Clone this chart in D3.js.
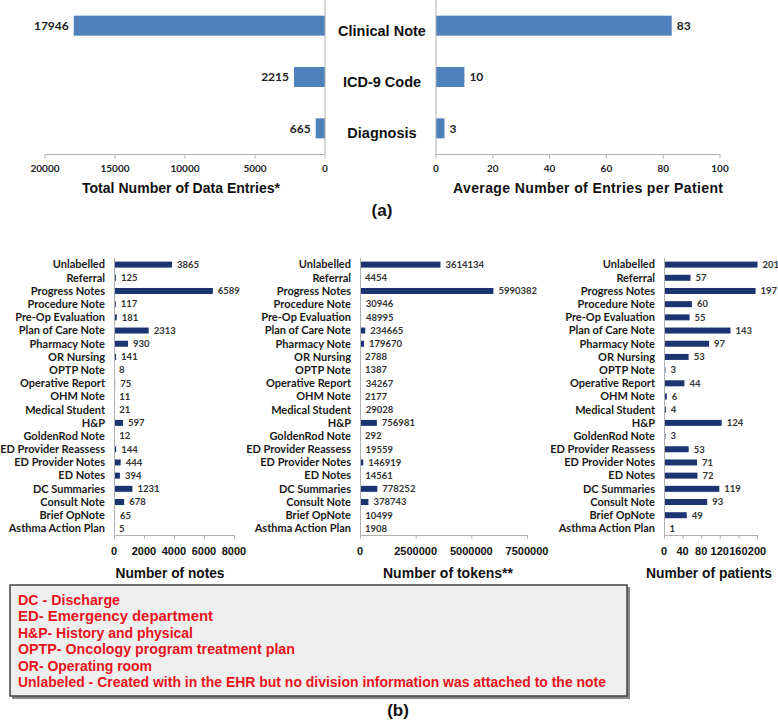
<!DOCTYPE html>
<html>
<head>
<meta charset="utf-8">
<script src="https://cdn.jsdelivr.net/npm/d3@7"></script>
<style>
  html, body { margin: 0; padding: 0; background: #fff; }
  svg { display: block; }
</style>
</head>
<body>
<svg id="chart" width="778" height="721"></svg>
<script>
// ---------- data ----------
const topCats = ["Clinical Note", "ICD-9 Code", "Diagnosis"];
const topTotals = [17946, 2215, 665];
const topAverages = [83, 10, 3];
const totalTicks = [20000, 15000, 10000, 5000, 0];
const avgTicks = [0, 20, 40, 60, 80, 100];

const noteCats = ["Unlabelled", "Referral", "Progress Notes", "Procedure Note", "Pre-Op Evaluation",
  "Plan of Care Note", "Pharmacy Note", "OR Nursing", "OPTP Note", "Operative Report", "OHM Note",
  "Medical Student", "H&P", "GoldenRod Note", "ED Provider Reassess", "ED Provider Notes", "ED Notes",
  "DC Summaries", "Consult Note", "Brief OpNote", "Asthma Action Plan"];
const noteCounts = [3865, 125, 6589, 117, 181, 2313, 930, 141, 8, 75, 11, 21, 597, 12, 144, 444, 394, 1231, 678, 65, 5];
const tokenCounts = [3614134, 4454, 5990382, 30946, 48995, 234665, 179670, 2788, 1387, 34267, 2177, 29028,
  756981, 292, 19559, 146919, 14561, 778252, 378743, 10499, 1908];
const patientCounts = [201, 57, 197, 60, 55, 143, 97, 53, 3, 44, 6, 4, 124, 3, 53, 71, 72, 119, 93, 49, 1];
const noteTicks = [0, 2000, 4000, 6000, 8000];
const tokenTicks = [0, 2500000, 5000000, 7500000];
const patientTicks = [0, 40, 80, 120, 160, 200];

const legendLines = [
  "DC - Discharge",
  "ED- Emergency department",
  "H&P- History and physical",
  "OPTP- Oncology program treatment plan",
  "OR- Operating room",
  "Unlabeled - Created with in the EHR but no division information was attached to the note"
];
const legendWidths = [102, 195, 175, 277, 134, 588];

// ---------- styles ----------
const AX = "#b0b0b0";
const LIGHT = "#4f81bd";
const NAVY = "#1a3570";
const CAL = "Lato, 'Open Sans', sans-serif";
const ARIAL = "'Liberation Sans', Arial, sans-serif";

const svg = d3.select("#chart");

// ---------- panel (a) ----------
const yA = d3.scaleBand().domain(topCats).range([0, 154]);
const barHA = 20;

function axisLines(g, x0, x1, yb, ticks, xs) {
  g.append("line").attr("x1", x0).attr("x2", x1).attr("y1", yb).attr("y2", yb)
    .attr("stroke", AX).attr("stroke-width", 1);
  g.selectAll(null).data(ticks).join("line")
    .attr("x1", d => xs(d)).attr("x2", d => xs(d))
    .attr("y1", yb).attr("y2", yb + 4).attr("stroke", AX);
}

// left: totals (reversed)
const xTot = d3.scaleLinear().domain([0, 20000]).range([325, 45]);
const gL = svg.append("g");
gL.selectAll("rect").data(topCats).join("rect")
  .attr("x", (d, i) => xTot(topTotals[i]))
  .attr("width", (d, i) => xTot(0) - xTot(topTotals[i]))
  .attr("y", d => yA(d) + yA.bandwidth() / 2 - barHA / 2)
  .attr("height", barHA)
  .attr("fill", LIGHT);
gL.append("line").attr("x1", xTot(0)).attr("x2", xTot(0)).attr("y1", 0).attr("y2", 154).attr("stroke", AX);
axisLines(gL, xTot(20000), xTot(0), 154.5, totalTicks, xTot);
gL.selectAll("text.v").data(topCats).join("text")
  .attr("x", (d, i) => xTot(topTotals[i]) - 5)
  .attr("y", d => yA(d) + yA.bandwidth() / 2)
  .attr("dy", "0.35em").attr("text-anchor", "end")
  .attr("font-family", CAL).attr("font-weight", 700).attr("font-size", 12).attr("fill", "#222")
  .text((d, i) => topTotals[i]);
gL.selectAll("text.t").data(totalTicks).join("text")
  .attr("x", d => xTot(d)).attr("y", 168).attr("dy", "0.35em").attr("text-anchor", "middle")
  .attr("font-family", CAL).attr("font-weight", 700).attr("font-size", 10).attr("fill", "#222")
  .text(d => d);
gL.append("text").attr("x", 181).attr("y", 188).attr("dy", "0.35em").attr("text-anchor", "middle")
  .attr("font-family", ARIAL).attr("font-weight", 700).attr("font-size", 14).attr("fill", "#111")
  .attr("textLength", 198).attr("lengthAdjust", "spacingAndGlyphs")
  .text("Total Number of Data Entries*");

// right: averages
const xAvg = d3.scaleLinear().domain([0, 100]).range([436, 720]);
const gR = svg.append("g");
gR.selectAll("rect").data(topCats).join("rect")
  .attr("x", xAvg(0))
  .attr("width", (d, i) => xAvg(topAverages[i]) - xAvg(0))
  .attr("y", d => yA(d) + yA.bandwidth() / 2 - barHA / 2)
  .attr("height", barHA)
  .attr("fill", LIGHT);
gR.append("line").attr("x1", xAvg(0)).attr("x2", xAvg(0)).attr("y1", 0).attr("y2", 154).attr("stroke", AX);
axisLines(gR, xAvg(0), xAvg(100), 154.5, avgTicks, xAvg);
gR.selectAll("text.v").data(topCats).join("text")
  .attr("x", (d, i) => xAvg(topAverages[i]) + 5)
  .attr("y", d => yA(d) + yA.bandwidth() / 2)
  .attr("dy", "0.35em").attr("text-anchor", "start")
  .attr("font-family", CAL).attr("font-weight", 700).attr("font-size", 12).attr("fill", "#222")
  .text((d, i) => topAverages[i]);
gR.selectAll("text.t").data(avgTicks).join("text")
  .attr("x", d => xAvg(d)).attr("y", 168).attr("dy", "0.35em").attr("text-anchor", "middle")
  .attr("font-family", CAL).attr("font-weight", 700).attr("font-size", 10).attr("fill", "#222")
  .text(d => d);
gR.append("text").attr("x", 588).attr("y", 188).attr("dy", "0.35em").attr("text-anchor", "middle")
  .attr("font-family", ARIAL).attr("font-weight", 700).attr("font-size", 14).attr("fill", "#111")
  .attr("textLength", 270).attr("lengthAdjust", "spacing")
  .text("Average Number of Entries per Patient");

// middle category labels
svg.selectAll("text.cat").data(topCats).join("text")
  .attr("x", 382).attr("y", d => yA(d) + yA.bandwidth() / 2 + 5)
  .attr("dy", "0.35em").attr("text-anchor", "middle")
  .attr("font-family", ARIAL).attr("font-weight", 700).attr("font-size", 14.5).attr("fill", "#111")
  .text(d => d);

svg.append("text").attr("x", 382).attr("y", 210).attr("dy", "0.35em").attr("text-anchor", "middle")
  .attr("font-family", ARIAL).attr("font-weight", 700).attr("font-size", 17).attr("fill", "#111")
  .text("(a)");

// ---------- panel (b) ----------
const yB = d3.scaleBand().domain(noteCats).range([258, 535]);
const barHB = 6;

function panelB(values, domainMax, x0, x1, ticks, title, titleX, titleW) {
  const x = d3.scaleLinear().domain([0, domainMax]).range([x0, x1]);
  const g = svg.append("g");
  g.selectAll("rect").data(noteCats).join("rect")
    .attr("x", x(0))
    .attr("width", (d, i) => Math.max(0, x(values[i]) - x(0)))
    .attr("y", d => yB(d) + yB.bandwidth() / 2 - barHB / 2)
    .attr("height", barHB)
    .attr("fill", NAVY);
  g.append("line").attr("x1", x(0) + 0.5).attr("x2", x(0) + 0.5).attr("y1", 258).attr("y2", 535).attr("stroke", AX);
  g.append("line").attr("x1", x(0)).attr("x2", x(d3.max(ticks))).attr("y1", 535.5).attr("y2", 535.5).attr("stroke", AX);
  g.selectAll("line.tk").data(ticks).join("line").attr("class", "tk")
    .attr("x1", d => x(d) + 0.5).attr("x2", d => x(d) + 0.5).attr("y1", 535).attr("y2", 539).attr("stroke", AX);
  g.selectAll("text.c").data(noteCats).join("text").attr("class", "c")
    .attr("x", x0 - 9).attr("y", d => yB(d) + yB.bandwidth() / 2)
    .attr("dy", "0.35em").attr("text-anchor", "end")
    .attr("font-family", CAL).attr("font-weight", 700).attr("font-size", 11).attr("fill", "#1a1a1a")
    .text(d => d);
  g.selectAll("text.v").data(noteCats).join("text").attr("class", "v")
    .attr("x", (d, i) => x(values[i]) + 5).attr("y", d => yB(d) + yB.bandwidth() / 2)
    .attr("dy", "0.35em").attr("text-anchor", "start")
    .attr("font-family", CAL).attr("font-weight", 700).attr("font-size", 9.5).attr("fill", "#333")
    .text((d, i) => values[i]);
  g.selectAll("text.t").data(ticks).join("text").attr("class", "t")
    .attr("x", d => x(d)).attr("y", 551).attr("dy", "0.35em").attr("text-anchor", "middle")
    .attr("font-family", ARIAL).attr("font-weight", 700).attr("font-size", 11).attr("fill", "#111")
    .text(d => d);
  g.append("text").attr("x", titleX).attr("y", 573).attr("dy", "0.35em").attr("text-anchor", "middle")
    .attr("font-family", ARIAL).attr("font-weight", 700).attr("font-size", 14.5).attr("fill", "#111")
    .attr("textLength", titleW).attr("lengthAdjust", "spacingAndGlyphs")
    .text(title);
}

panelB(noteCounts, 8000, 114, 234, noteTicks, "Number of notes", 170, 109);
panelB(tokenCounts, 7500000, 360, 527, tokenTicks, "Number of tokens**", 448, 130);
panelB(patientCounts, 220, 664, 766.3, patientTicks, "Number of patients", 709, 126);

// legend box
const lg = svg.append("g");
lg.append("rect").attr("x", 12).attr("y", 587).attr("width", 618).attr("height", 112).attr("fill", "#888");
lg.append("rect").attr("x", 10).attr("y", 585).attr("width", 617).attr("height", 111)
  .attr("fill", "#efefef").attr("stroke", "#444").attr("stroke-width", 1.5);
lg.selectAll("text").data(legendLines).join("text")
  .attr("x", 18).attr("y", (d, i) => 600 + i * 16.5).attr("dy", "0.35em")
  .attr("font-family", ARIAL).attr("font-weight", 700).attr("font-size", 14).attr("fill", "#e8141b")
  .attr("textLength", (d, i) => legendWidths[i]).attr("lengthAdjust", "spacingAndGlyphs")
  .text(d => d);

svg.append("text").attr("x", 398).attr("y", 710).attr("dy", "0.35em").attr("text-anchor", "middle")
  .attr("font-family", ARIAL).attr("font-weight", 700).attr("font-size", 17).attr("fill", "#111")
  .text("(b)");
</script>
</body>
</html>
